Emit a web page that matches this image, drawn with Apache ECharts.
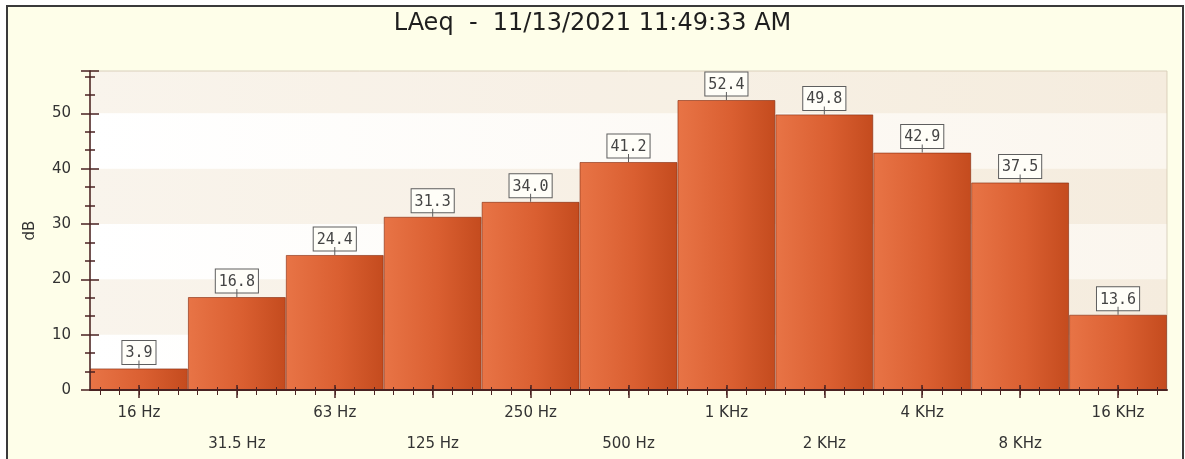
<!DOCTYPE html>
<html>
<head>
<meta charset="utf-8">
<title>LAeq octave spectrum</title>
<script src="https://cdn.jsdelivr.net/npm/echarts@6/dist/echarts.min.js"></script>
<style>
  html, body { margin: 0; padding: 0; background: #ffffff; }
  #wrap { position: relative; width: 1185px; height: 459px; overflow: hidden; background: #ffffff; }
  #paper { position: absolute; left: 8px; top: 7px; width: 1173px; height: 470px; background: #fefee9; }
  #chart { position: absolute; left: 0; top: 0; width: 1185px; height: 459px; }
  #frame { position: absolute; left: 6px; top: 5px; width: 1178px; height: 480px; border: 2px solid #3a3a3a;
           box-sizing: border-box; pointer-events: none; }
</style>
</head>
<body>
<div id="wrap">
  <div id="paper"></div>
  <div id="chart"></div>
  <div id="frame"></div>
</div>
<script>
// Octave-band centre frequencies
const categories = ['16 Hz', '31.5 Hz', '63 Hz', '125 Hz', '250 Hz', '500 Hz',
                    '1 KHz', '2 KHz', '4 KHz', '8 KHz', '16 KHz'];
// Equivalent A-weighted level per band, dB
const laeq = [3.9, 16.8, 24.4, 31.3, 34.0, 41.2, 52.4, 49.8, 42.9, 37.5, 13.6];
const titleText = 'LAeq  -  11/13/2021 11:49:33 AM';
const yAxisName = 'dB';

// Fine tick subdivisions along the frequency axis (5 per band)
const SUB = 5;
const subCategories = [];
categories.forEach(function (c) {
  for (let k = 0; k < SUB; k++) subCategories.push(c + '·' + k);
});

const yMax = Math.max.apply(null, laeq) * 1.1;
const axisInk = '#4a2222';
const uiFont = 'DejaVu Sans';

const barFill = new echarts.graphic.LinearGradient(0, 0, 1, 0, [
  { offset: 0, color: '#e87446' },
  { offset: 0.55, color: '#da5f31' },
  { offset: 1, color: '#c44b1e' }
]);

function tickAxisX(data, inside, len, width) {
  return {
    type: 'category', data: data, position: 'bottom', offset: 0, z: 5,
    axisLine: { show: false },
    axisTick: { show: true, inside: inside, alignWithLabel: true, interval: 0, length: len,
                lineStyle: { color: axisInk, width: width } },
    axisLabel: { show: false },
    splitLine: { show: false }, splitArea: { show: false }
  };
}

const chart = echarts.init(document.getElementById('chart'), null, { renderer: 'canvas' });
chart.setOption({
  backgroundColor: 'transparent',
  animation: false,
  title: {
    text: titleText, left: 'center', top: 7,
    textStyle: { fontFamily: uiFont, fontSize: 24, fontWeight: 'normal', color: '#1e1e1e' }
  },
  grid: {
    left: 90, right: 18, top: 71, bottom: 69, show: true,
    outerBoundsMode: 'none', containLabel: false,
    backgroundColor: new echarts.graphic.LinearGradient(0, 0, 1, 0, [
      { offset: 0, color: '#ffffff' }, { offset: 1, color: '#fbf6ee' }
    ]),
    borderColor: '#d9d1bf', borderWidth: 1
  },
  xAxis: [
    {
      type: 'category', data: categories, position: 'bottom', offset: 0, z: 5,
      axisLine: { show: true, lineStyle: { color: axisInk, width: 2 } },
      axisTick: { show: true, alignWithLabel: true, interval: 0, length: 8,
                  lineStyle: { color: axisInk, width: 1.5 } },
      axisLabel: {
        interval: 0, margin: 8, lineHeight: 31, fontFamily: uiFont, fontSize: 15, color: '#333333',
        formatter: function (v, i) { return i % 2 ? '\n' + v : v; }
      },
      splitLine: { show: false }
    },
    tickAxisX(categories, true, 5, 1.5),
    tickAxisX(subCategories, false, 5, 1),
    tickAxisX(subCategories, true, 3, 1)
  ],
  yAxis: [
    {
      type: 'value', position: 'left', offset: 0, min: 0, max: yMax, interval: 10, z: 0,
      axisLine: { show: false }, axisTick: { show: false }, axisLabel: { show: false },
      splitLine: { show: false },
      splitArea: { show: true, areaStyle: { color: ['rgba(255,255,255,0)', 'rgba(226,198,162,0.2)'] } }
    },
    {
      type: 'value', position: 'left', offset: 0, min: 0, max: yMax, interval: 10, z: 5,
      name: yAxisName, nameLocation: 'middle', nameGap: 52,
      nameTextStyle: { fontFamily: uiFont, fontSize: 15, color: '#333333' },
      axisLine: { show: true, lineStyle: { color: axisInk, width: 1.5 } },
      axisTick: { show: true, length: 9, lineStyle: { color: axisInk, width: 1.5 } },
      minorTick: { show: true, splitNumber: 3, length: 5, lineStyle: { color: axisInk, width: 1.5 } },
      axisLabel: { margin: 19, showMaxLabel: false, fontFamily: uiFont, fontSize: 15, color: '#333333' },
      splitLine: { show: false }, splitArea: { show: false }
    },
    {
      type: 'value', position: 'left', offset: 0, min: 0, max: yMax, interval: 10, z: 5,
      axisLine: { show: false },
      axisTick: { show: true, inside: true, length: 9, lineStyle: { color: axisInk, width: 1.5 } },
      minorTick: { show: true, splitNumber: 3, length: 5, lineStyle: { color: axisInk, width: 1.5 } },
      axisLabel: { show: false },
      splitLine: { show: false }, splitArea: { show: false }
    }
  ],
  series: [{
    type: 'bar', name: 'LAeq', data: laeq, xAxisIndex: 0, yAxisIndex: 1,
    barCategoryGap: '0%', z: 2,
    itemStyle: { color: barFill, borderColor: 'rgba(130,40,12,0.6)', borderWidth: 1 },
    label: {
      show: true, position: 'top', distance: 0,
      formatter: function (p) { return '{box|' + p.value.toFixed(1) + '}\n{stem|}'; },
      rich: {
        box: {
          fontFamily: 'DejaVu Sans Mono', fontSize: 15, lineHeight: 16, color: '#444444',
          backgroundColor: '#fffef8', borderColor: '#5e5e5e', borderWidth: 1,
          padding: [5, 3, 3, 3]
        },
        stem: { width: 1, height: 8, backgroundColor: '#5e5e5e' }
      }
    }
  }]
});
</script>
</body>
</html>
